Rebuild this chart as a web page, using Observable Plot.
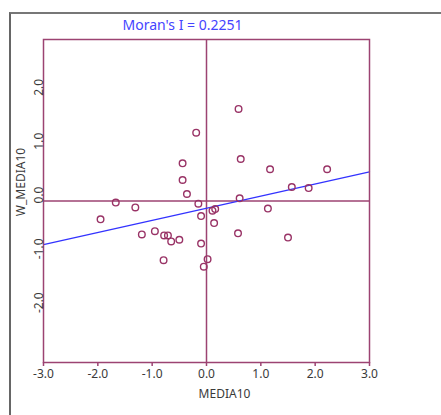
<!DOCTYPE html>
<html>
<head>
<meta charset="utf-8">
<script src="https://cdn.jsdelivr.net/npm/d3@7"></script>
<script src="https://cdn.jsdelivr.net/npm/@observablehq/plot@0.6"></script>
<style>
  html, body { margin: 0; padding: 0; background: #fff; }
  #wrap { position: relative; width: 441px; height: 415px; overflow: hidden; }
  #frame { position: absolute; left: 9px; top: 12px; width: 600px; height: 600px;
           border-left: 2px solid #666; border-top: 2px solid #777; box-sizing: border-box; pointer-events: none; }
  #chart { position: absolute; left: 0; top: 0; }
</style>
</head>
<body>
<div id="wrap"><div id="chart"></div><div id="frame"></div></div>
<script>
// Data
const media10 = [-0.19, -0.44, -0.44, -0.36, -1.67, -1.31, -0.15, -1.95, -0.10, 0.14, 0.11, 0.16,
  -1.19, -0.95, -0.78, -0.71, -0.65, -0.50, -0.10, -0.79, 0.02, -0.05,
  0.59, 0.63, 1.17, 2.22, 1.57, 1.88, 0.61, 1.13, 0.58, 1.50];
const wMedia10 = [1.27, 0.70, 0.39, 0.13, -0.03, -0.12, -0.05, -0.34, -0.28, -0.41, -0.18, -0.15,
  -0.62, -0.56, -0.64, -0.64, -0.75, -0.72, -0.79, -1.10, -1.08, -1.22,
  1.71, 0.78, 0.59, 0.59, 0.26, 0.24, 0.05, -0.14, -0.60, -0.68];
const moransI = 0.2251;          // slope of the fitted line
const intercept = -0.135;
const xTicks = [-3, -2, -1, 0, 1, 2, 3];
const xTickLabels = ["-3.0", "-2.0", "-1.0", "0.0", "1.0", "2.0", "3.0"];
const yTicks = [-2, -1, 0, 1, 2];
const yTickLabels = ["-2.0", "-1.0", "0.0", "1.0", "2.0"];
const titleText = "Moran's I = 0.2251";
const xLabel = "MEDIA10";
const yLabel = "W_MEDIA10";

const points = media10.map((x, i) => ({x, y: wMedia10[i]}));
const lineEnds = [-3, 3].map(x => ({x, y: intercept + moransI * x}));

const axisColor = "#9c4372";
const pointColor = "#993366";
const textColor = "#3a3a3a";

const chart = Plot.plot({
  width: 441, height: 415,
  marginLeft: 43, marginRight: 72, marginTop: 39, marginBottom: 53,
  x: {domain: [-3, 3]},
  y: {domain: [-3, 3]},
  style: {fontFamily: "Noto Sans", fontSize: "12px", background: "transparent", color: textColor},
  marks: [
    Plot.ruleX([0], {stroke: axisColor, strokeWidth: 1.5}),
    Plot.ruleY([0], {stroke: axisColor, strokeWidth: 1.5}),
    Plot.line(lineEnds, {x: "x", y: "y", stroke: "#3333ff", strokeWidth: 1.3}),
    Plot.dot(points, {x: "x", y: "y", r: 3.3, stroke: pointColor, strokeWidth: 1.4, fill: "none"}),
    Plot.frame({stroke: axisColor, strokeWidth: 1.5}),
    Plot.axisX(xTicks, {tickSize: 4, tickPadding: 3, stroke: axisColor, strokeWidth: 1.5,
      tickFormat: d => xTickLabels[xTicks.indexOf(d)], label: null, fill: textColor, fontSize: 12}),
    Plot.axisY(yTicks, {tickSize: 0, tickFormat: () => "", label: null}),
    Plot.text(yTicks, {x: -3, y: d => d, text: (d, i) => yTickLabels[i], rotate: -90,
      textAnchor: "middle", lineAnchor: "bottom", dx: -1, dy: -6, fill: textColor, fontSize: 12}),
    Plot.text([yLabel], {frameAnchor: "left", text: d => d, rotate: -90, dx: -22, dy: -19,
      lineAnchor: "middle", textAnchor: "middle", fill: textColor, fontSize: 12}),
    Plot.text([xLabel], {frameAnchor: "bottom", text: d => d, dx: 18, dy: 32,
      lineAnchor: "middle", fill: textColor, fontSize: 12}),
    Plot.text([titleText], {frameAnchor: "top", text: d => d, dx: -24, dy: -14,
      lineAnchor: "middle", fill: "#4444ff", fontSize: 14})
  ]
});
document.getElementById("chart").append(chart);
</script>
</body>
</html>
